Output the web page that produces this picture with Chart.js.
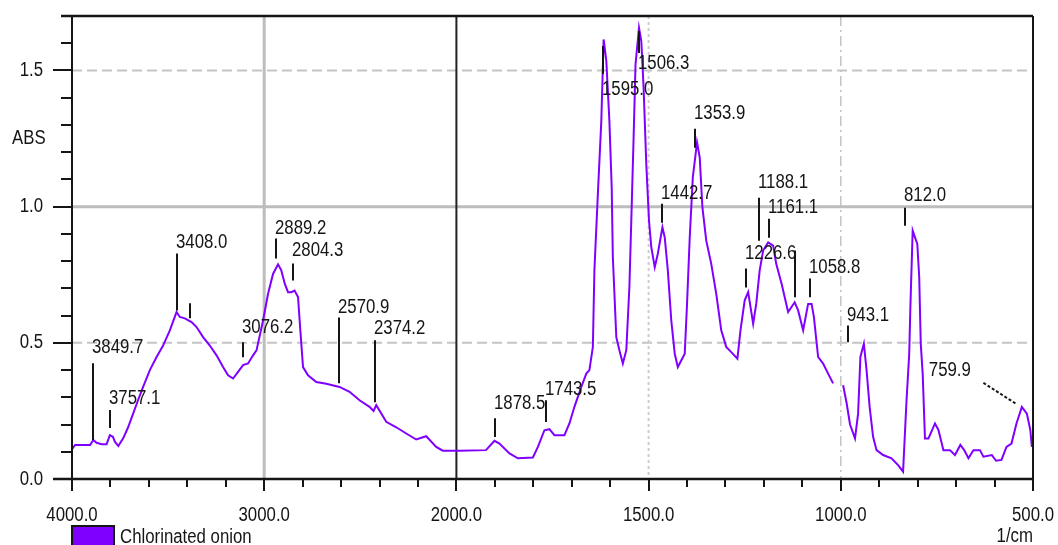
<!DOCTYPE html>
<html>
<head>
<meta charset="utf-8">
<script src="https://cdn.jsdelivr.net/npm/chart.js@4.4.1/dist/chart.umd.min.js"></script>
<style>
  html, body { margin: 0; padding: 0; background: #fff; }
  #wrap { width: 1058px; height: 545px; position: relative; }
</style>
</head>
<body>
<div id="wrap"><canvas id="spectrum"></canvas></div>
<script>
// spectrum (1/cm, absorbance)
const wavenumbers = [
  4000, 3984, 3906, 3889, 3872, 3846, 3820, 3803, 3787, 3777, 3759, 3733, 3708, 3682, 3656, 3630,
  3595, 3560, 3526, 3491, 3456, 3439, 3413, 3378, 3352, 3318, 3283, 3248, 3214, 3188, 3162, 3136,
  3110, 3084, 3058, 3040, 3023, 3006, 2980, 2954, 2928, 2911, 2893, 2876, 2859, 2842, 2824, 2812,
  2798, 2772, 2729, 2677, 2608, 2556, 2504, 2452, 2431, 2417, 2365, 2313, 2261, 2209, 2157, 2105,
  2071, 2000,
  1992, 1923, 1901, 1888, 1862, 1840, 1801, 1788, 1771, 1758, 1745, 1719, 1706, 1693, 1675, 1662,
  1654, 1645, 1641, 1632, 1623, 1617, 1610, 1602, 1596, 1593, 1584, 1576, 1567, 1558, 1550, 1545,
  1539, 1534, 1525, 1519, 1513, 1506, 1499, 1493, 1484, 1476, 1464, 1458, 1450, 1441, 1432, 1424,
  1406, 1400, 1393, 1385, 1374, 1367, 1360, 1350, 1337, 1324, 1311, 1298, 1285, 1269, 1261, 1250,
  1241, 1228, 1220, 1211, 1202, 1189, 1176, 1168, 1154, 1137, 1120, 1111, 1098, 1085, 1076, 1070,
  1059, 1046, 1033, 1020, 1010, 994, 985, 976, 963, 955, 949, 940, 933, 925, 916, 907,
  890, 868, 851, 838, 829, 822, 819, 813, 807, 801, 796, 792, 787, 781, 772, 755,
  746, 733, 716, 703, 689, 679, 668, 655, 638, 629, 607, 596, 582, 569, 556, 543,
  529, 516, 507, 503
];
const absorbance = [
  0.110, 0.125, 0.125, 0.143, 0.133, 0.128, 0.128, 0.161, 0.155, 0.137, 0.121, 0.150, 0.190, 0.240, 0.290, 0.338,
  0.400, 0.448, 0.490, 0.546, 0.613, 0.595, 0.590, 0.576, 0.558, 0.521, 0.490, 0.454, 0.411, 0.381, 0.369, 0.393,
  0.418, 0.424, 0.454, 0.472, 0.527, 0.582, 0.680, 0.753, 0.788, 0.766, 0.717, 0.686, 0.686, 0.692, 0.668, 0.546,
  0.411, 0.381, 0.356, 0.350, 0.338, 0.320, 0.289, 0.265, 0.250, 0.271, 0.210, 0.190, 0.167, 0.145, 0.157, 0.118,
  0.104, 0.104,
  0.104, 0.106, 0.140, 0.130, 0.094, 0.076, 0.079, 0.118, 0.179, 0.183, 0.161, 0.161, 0.204, 0.265, 0.338, 0.387,
  0.400, 0.485, 0.766, 1.046, 1.315, 1.614, 1.535, 1.315, 1.071, 0.814, 0.521, 0.473, 0.424, 0.473, 0.704, 0.949,
  1.254, 1.523, 1.657, 1.608, 1.437, 1.156, 0.949, 0.851, 0.778, 0.827, 0.924, 0.887, 0.766, 0.582, 0.460, 0.411,
  0.460, 0.643, 0.887, 1.107, 1.236, 1.180, 0.997, 0.875, 0.790, 0.680, 0.546, 0.485, 0.466, 0.442, 0.546, 0.656,
  0.686, 0.570, 0.643, 0.766, 0.839, 0.869, 0.857, 0.790, 0.717, 0.613, 0.649, 0.619, 0.546, 0.643, 0.643, 0.595,
  0.448, 0.424, 0.387, 0.351, null, 0.344, 0.280, 0.200, 0.149, 0.240, 0.448, 0.497, 0.400, 0.265, 0.155, 0.106,
  0.088, 0.076, 0.051, 0.027, 0.289, 0.460, 0.631, 0.912, 0.887, 0.863, 0.741, 0.497, 0.387, 0.149, 0.149, 0.204,
  0.180, 0.106, 0.106, 0.088, 0.125, 0.106, 0.076, 0.106, 0.106, 0.082, 0.088, 0.067, 0.070, 0.118, 0.130, 0.204,
  0.265, 0.240, 0.180, 0.118
];

// axis ticks
const xMinorTicks = [4000, 3800, 3600, 3400, 3200, 3000, 2800, 2600, 2400, 2200,
  2000, 1900, 1800, 1700, 1600, 1500, 1400, 1300, 1200, 1100, 1000, 900, 800, 700, 600, 500];
const xLabelTicks = [4000, 3000, 2000, 1500, 1000, 500];
const yLabelTicks = [0, 0.5, 1.0, 1.5];

// peak picks: label, marker position (1/cm), marker from/to (abs), label height (abs)
const peakLabels = ['3849.7', '3757.1', '3408.0', '', '3076.2', '2889.2', '2804.3', '2570.9', '2374.2',
  '1878.5', '1743.5', '1595.0', '1506.3', '1442.7', '1353.9', '1226.6', '1188.1', '1161.1', '',
  '1058.8', '943.1', '812.0'];
const peakAt = [3889, 3803, 3453, 3387, 3112, 2937, 2850, 2611, 2422,
  1899, 1766, 1619, 1525, 1465, 1378, 1246, 1213, 1187, 1120, 1081, 982, 833];
const peakFrom = [0.143, 0.187, 0.619, 0.590, 0.447, 0.810, 0.729, 0.352, 0.282,
  0.154, 0.209, 1.487, 1.564, 0.941, 1.216, 0.703, 0.875, 0.886, 0.667, 0.667, 0.502, 0.930];
const peakTo = [0.425, 0.253, 0.828, 0.645, 0.502, 0.883, 0.791, 0.593, 0.509,
  0.223, 0.289, 1.590, 1.645, 1.011, 1.286, 0.773, 1.033, 0.956, 0.839, 0.736, 0.564, 0.996];
const peakTextY = [0.484, 0.297, 0.868, 0, 0.557, 0.919, 0.839, 0.630, 0.553,
  0.278, 0.330, 1.432, 1.524, 1.048, 1.341, 0.828, 1.088, 0.996, 0, 0.777, 0.601, 1.040];
// the 759.9 pick is drawn with a slanted dashed leader
const leaderLabel = '759.9';
const leaderText = [771, 0.40];
const leaderLine = [[629, 0.353], [545, 0.277]];

const FONT = '20px "Liberation Sans", Arial, sans-serif';
const SQUEEZE = 0.84;   // the original lettering is condensed
const INK = '#151515';
const PURPLE = '#8000ff';

// Shimadzu style axis: 4000-2000 at 1x, 2000-500 expanded 2x
class FtirScale extends Chart.LinearScale {
  buildTicks() {
    return xMinorTicks.map(v => ({ value: v }));
  }
  getPixelForValue(v) {
    const f = v >= 2000 ? 0.4 * (4000 - v) / 2000 : 0.4 + 0.6 * (2000 - v) / 1500;
    return this.getPixelForDecimal(f);
  }
  getValueForPixel(p) {
    const f = this.getDecimalForPixel(p);
    return f <= 0.4 ? 4000 - f / 0.4 * 2000 : 2000 - (f - 0.4) / 0.6 * 1500;
  }
}
FtirScale.id = 'ftir';
FtirScale.defaults = Chart.LinearScale.defaults;
Chart.register(FtirScale);

function text(ctx, str, x, y, align) {
  ctx.save();
  ctx.translate(x, y);
  ctx.scale(SQUEEZE, 1);
  ctx.textAlign = align || 'left';
  ctx.fillText(str, 0, 0);
  ctx.restore();
}

const frame = {
  id: 'frame',
  beforeDatasetsDraw(chart) {
    const { ctx, chartArea: a, scales: { x, y } } = chart;
    ctx.save();
    const vline = (v, color, w, dash) => {
      ctx.beginPath();
      ctx.strokeStyle = color; ctx.lineWidth = w; ctx.setLineDash(dash);
      ctx.moveTo(x.getPixelForValue(v), a.top);
      ctx.lineTo(x.getPixelForValue(v), a.bottom);
      ctx.stroke();
    };
    const hline = (v, color, w, dash) => {
      ctx.beginPath();
      ctx.strokeStyle = color; ctx.lineWidth = w; ctx.setLineDash(dash);
      ctx.moveTo(a.left, y.getPixelForValue(v));
      ctx.lineTo(a.right, y.getPixelForValue(v));
      ctx.stroke();
    };
    hline(1.5, '#c4c4c4', 2, [10, 5]);
    hline(0.5, '#c4c4c4', 2, [10, 5]);
    hline(1.0, '#bdbdbd', 3, []);
    vline(3000, '#bdbdbd', 3, []);
    vline(1500, '#cccccc', 2, [3, 3]);
    vline(1000, '#c4c4c4', 1.5, [10, 4, 2, 4]);
    vline(2000, '#222', 2, []);
    ctx.restore();
  },
  afterDatasetsDraw(chart) {
    const { ctx, chartArea: a, scales: { x, y } } = chart;
    ctx.save();
    ctx.strokeStyle = INK;
    ctx.fillStyle = INK;
    ctx.font = FONT;
    ctx.textBaseline = 'middle';
    ctx.setLineDash([]);
    // y ticks every 0.1
    ctx.lineWidth = 2;
    for (let i = 0; i <= 17; i++) {
      const py = Math.round(y.getPixelForValue(i / 10));
      ctx.beginPath();
      ctx.moveTo(a.left - (i % 5 === 0 ? 19 : 11), py);
      ctx.lineTo(a.left, py);
      ctx.stroke();
    }
    yLabelTicks.forEach(v => text(ctx, v.toFixed(1), a.left - 29, y.getPixelForValue(v), 'right'));
    // x ticks
    xMinorTicks.forEach(v => {
      const px = Math.round(x.getPixelForValue(v));
      ctx.beginPath();
      ctx.moveTo(px, a.bottom);
      ctx.lineTo(px, a.bottom + (xLabelTicks.includes(v) ? 12 : 8));
      ctx.stroke();
    });
    xLabelTicks.forEach(v => text(ctx, v.toFixed(1), x.getPixelForValue(v), 515, 'center'));
    // frame
    ctx.lineWidth = 2.5;
    ctx.beginPath();
    ctx.moveTo(a.left - 19, a.bottom); ctx.lineTo(a.right, a.bottom);
    ctx.moveTo(a.left - 11, a.top); ctx.lineTo(a.right, a.top);
    ctx.stroke();
    ctx.lineWidth = 2;
    ctx.beginPath();
    ctx.moveTo(a.left, a.top); ctx.lineTo(a.left, a.bottom);
    ctx.moveTo(a.right, a.top); ctx.lineTo(a.right, a.bottom);
    ctx.stroke();

    // peak picks
    peakAt.forEach((w, i) => {
      const px = Math.round(x.getPixelForValue(w));
      ctx.beginPath();
      ctx.moveTo(px, y.getPixelForValue(peakFrom[i]));
      ctx.lineTo(px, y.getPixelForValue(peakTo[i]));
      ctx.stroke();
      if (peakLabels[i]) text(ctx, peakLabels[i], px - 1, y.getPixelForValue(peakTextY[i]));
    });
    ctx.setLineDash([3, 2]);
    ctx.beginPath();
    ctx.moveTo(x.getPixelForValue(leaderLine[0][0]), y.getPixelForValue(leaderLine[0][1]));
    ctx.lineTo(x.getPixelForValue(leaderLine[1][0]), y.getPixelForValue(leaderLine[1][1]));
    ctx.stroke();
    ctx.setLineDash([]);
    text(ctx, leaderLabel, x.getPixelForValue(leaderText[0]), y.getPixelForValue(leaderText[1]));

    // axis captions
    text(ctx, 'ABS', 12, y.getPixelForValue(1.25));
    text(ctx, '1/cm', a.right, 536, 'right');

    // legend swatch
    const ds = chart.data.datasets[0];
    ctx.fillStyle = PURPLE;
    ctx.fillRect(a.left, 526, 42, 24);
    ctx.lineWidth = 2;
    ctx.strokeRect(a.left, 526, 42, 24);
    ctx.fillStyle = INK;
    text(ctx, ds.label, a.left + 48, 537);
    ctx.restore();
  }
};

new Chart(document.getElementById('spectrum'), {
  type: 'line',
  data: {
    datasets: [{
      label: 'Chlorinated onion',
      data: wavenumbers.map((w, i) => ({ x: w, y: absorbance[i] })),
      borderColor: PURPLE,
      borderWidth: 2,
      pointRadius: 0,
      tension: 0,
      spanGaps: false
    }]
  },
  options: {
    responsive: true,
    maintainAspectRatio: false,
    animation: false,
    events: [],
    layout: { padding: { left: 0, right: 25, top: 16, bottom: 0 } },
    plugins: { legend: { display: false }, tooltip: { enabled: false } },
    scales: {
      x: {
        type: 'ftir',
        min: 500,
        max: 4000,
        grid: { display: false, drawTicks: false },
        border: { display: false },
        ticks: { display: false },
        afterFit: s => { s.height = 66; }
      },
      y: {
        min: 0,
        max: 1.7,
        grid: { display: false, drawTicks: false },
        border: { display: false },
        ticks: { display: false },
        afterFit: s => { s.width = 72; }
      }
    }
  },
  plugins: [frame]
});
</script>
</body>
</html>
